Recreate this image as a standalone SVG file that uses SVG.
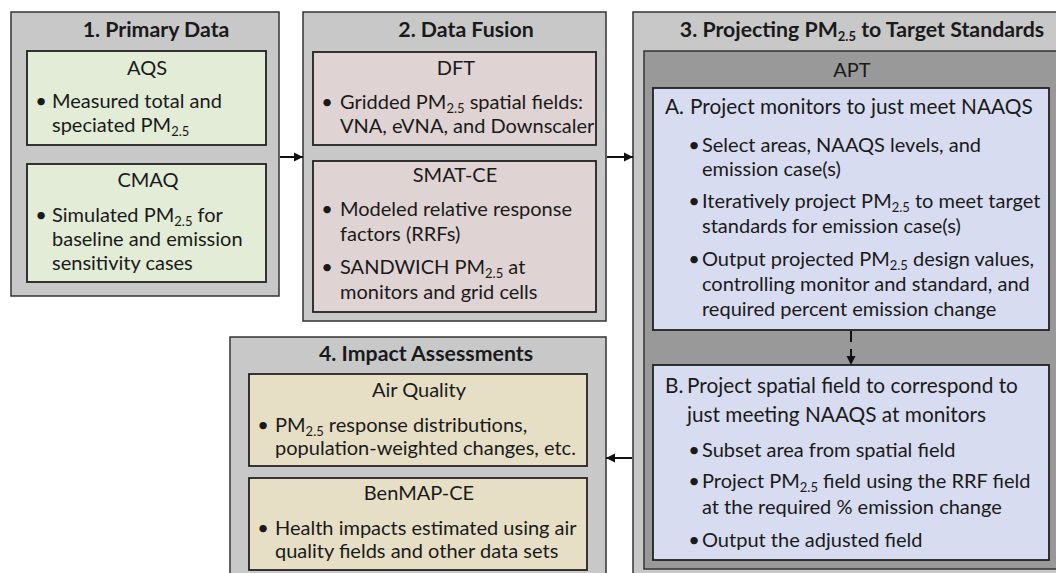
<svg xmlns="http://www.w3.org/2000/svg" width="1056" height="573" viewBox="0 0 1056 573">
  <defs>
    <style>
      .panel { fill: #c8c8c9; stroke: #333; stroke-width: 1.5; }
      .green { fill: #e2ecd6; stroke: #222; stroke-width: 1.8; }
      .pink { fill: #e0d3d3; stroke: #222; stroke-width: 1.8; }
      .tan { fill: #e6dfc5; stroke: #222; stroke-width: 1.8; }
      .apt { fill: #999999; stroke: #333; stroke-width: 1.5; }
      .blue { fill: #d8dcf0; stroke: #222; stroke-width: 1.8; }
      text { font-family: Lato, "Open Sans", "Liberation Sans", sans-serif; font-size: 20px; fill: #1a1a1a; }
      .h { font-weight: bold; font-size: 21.3px; text-anchor: middle; }
      .step { font-size: 20.8px; }
      .t { text-anchor: middle; }
      .b { text-anchor: middle; }
      .sub { font-size: 13px; }
      .conn { stroke: #111; stroke-width: 2; fill: none; }
    </style>
    <marker id="arrow" viewBox="0 0 10 10" refX="10" refY="5" markerWidth="9" markerHeight="12" markerUnits="userSpaceOnUse" orient="auto">
      <path d="M0,0 L10,5 L0,10 z" fill="#111"/>
    </marker>
  </defs>

  <!-- 1. Primary Data -->
  <g id="primary-data">
    <rect class="panel" x="11" y="12" width="268" height="284"/>
    <text class="h" x="156" y="37">1. Primary Data</text>
    <g id="aqs">
      <rect class="green" x="27" y="51" width="239" height="94"/>
      <text class="t" x="147" y="75">AQS</text>
      <text class="b" x="41" y="108">•</text>
      <text x="52" y="108">Measured total and</text>
      <text x="52" y="132">speciated PM<tspan class="sub" dy="3.5">2.5</tspan></text>
    </g>
    <g id="cmaq">
      <rect class="green" x="27" y="164" width="239" height="118"/>
      <text class="t" x="148" y="187">CMAQ</text>
      <text class="b" x="41" y="222">•</text>
      <text x="52" y="222">Simulated PM<tspan class="sub" dy="3.5">2.5</tspan><tspan dy="-3.5"> for</tspan></text>
      <text x="52" y="246">baseline and emission</text>
      <text x="52" y="270">sensitivity cases</text>
    </g>
  </g>

  <!-- 2. Data Fusion -->
  <g id="data-fusion">
    <rect class="panel" x="303" y="12" width="303" height="309"/>
    <text class="h" x="466" y="37">2. Data Fusion</text>
    <g id="dft">
      <rect class="pink" x="313" y="52" width="283" height="93"/>
      <text class="t" x="456" y="75">DFT</text>
      <text class="b" x="327" y="109">•</text>
      <text x="340" y="109">Gridded PM<tspan class="sub" dy="3.5">2.5</tspan><tspan dy="-3.5"> spatial fields:</tspan></text>
      <text x="340" y="133">VNA, eVNA, and Downscaler</text>
    </g>
    <g id="smat-ce">
      <rect class="pink" x="313" y="161" width="283" height="151"/>
      <text class="t" x="455" y="182">SMAT-CE</text>
      <text class="b" x="327" y="216">•</text>
      <text x="340" y="216">Modeled relative response</text>
      <text x="340" y="241">factors (RRFs)</text>
      <text class="b" x="327" y="274">•</text>
      <text x="340" y="274">SANDWICH PM<tspan class="sub" dy="3.5">2.5</tspan><tspan dy="-3.5"> at</tspan></text>
      <text x="340" y="299">monitors and grid cells</text>
    </g>
  </g>

  <!-- 3. Projecting PM2.5 to Target Standards -->
  <g id="projecting">
    <rect class="panel" x="633" y="12" width="440" height="575"/>
    <text class="h" x="862" y="37">3. Projecting PM<tspan class="sub" font-size="14" dy="4">2.5</tspan><tspan dy="-4"> to Target Standards</tspan></text>
    <g id="apt">
      <rect class="apt" x="644" y="51" width="425" height="518"/>
      <text class="t" x="852" y="77">APT</text>
    </g>
    <g id="step-a">
      <rect class="blue" x="653" y="88" width="396" height="242"/>
      <text class="step" x="665" y="114">A.</text>
      <text class="step" x="690" y="114">Project monitors to just meet NAAQS</text>
      <text class="b" x="694" y="152">•</text>
      <text x="702" y="152">Select areas, NAAQS levels, and</text>
      <text x="702" y="176">emission case(s)</text>
      <text class="b" x="694" y="208">•</text>
      <text x="702" y="208">Iteratively project PM<tspan class="sub" dy="3.5">2.5</tspan><tspan dy="-3.5"> to meet target</tspan></text>
      <text x="702" y="233">standards for emission case(s)</text>
      <text class="b" x="694" y="266">•</text>
      <text x="702" y="266">Output projected PM<tspan class="sub" dy="3.5">2.5</tspan><tspan dy="-3.5"> design values,</tspan></text>
      <text x="702" y="291">controlling monitor and standard, and</text>
      <text x="702" y="316">required percent emission change</text>
    </g>
    <g id="step-b">
      <rect class="blue" x="653" y="365" width="396" height="195"/>
      <text class="step" x="665" y="393">B.</text>
      <text class="step" x="687" y="393">Project spatial field to correspond to</text>
      <text class="step" x="687" y="422">just meeting NAAQS at monitors</text>
      <text class="b" x="694" y="457">•</text>
      <text x="702" y="457">Subset area from spatial field</text>
      <text class="b" x="694" y="488">•</text>
      <text x="702" y="488">Project PM<tspan class="sub" dy="3.5">2.5</tspan><tspan dy="-3.5"> field using the RRF field</tspan></text>
      <text x="702" y="514">at the required % emission change</text>
      <text class="b" x="694" y="547">•</text>
      <text x="702" y="547">Output the adjusted field</text>
    </g>
  </g>

  <!-- 4. Impact Assessments -->
  <g id="impact">
    <rect class="panel" x="230" y="337" width="376" height="250"/>
    <text class="h" x="426" y="361">4. Impact Assessments</text>
    <g id="air-quality">
      <rect class="tan" x="249" y="374" width="338" height="92"/>
      <text class="t" x="419" y="397">Air Quality</text>
      <text class="b" x="263" y="432">•</text>
      <text x="275" y="432">PM<tspan class="sub" dy="3.5">2.5</tspan><tspan dy="-3.5"> response distributions,</tspan></text>
      <text x="275" y="455">population-weighted changes, etc.</text>
    </g>
    <g id="benmap-ce">
      <rect class="tan" x="249" y="478" width="338" height="92"/>
      <text class="t" x="419" y="500">BenMAP-CE</text>
      <text class="b" x="263" y="535">•</text>
      <text x="275" y="535">Health impacts estimated using air</text>
      <text x="275" y="558">quality fields and other data sets</text>
    </g>
  </g>

  <!-- connectors -->
  <g id="connectors">
    <line class="conn" x1="280" y1="157" x2="303" y2="157" marker-end="url(#arrow)"/>
    <line class="conn" x1="607" y1="157" x2="633" y2="157" marker-end="url(#arrow)"/>
    <line class="conn" x1="632" y1="458" x2="606" y2="458" marker-end="url(#arrow)"/>
    <line class="conn" x1="851" y1="331" x2="851" y2="365" stroke-dasharray="11 7" marker-end="url(#arrow)"/>
  </g>
</svg>
